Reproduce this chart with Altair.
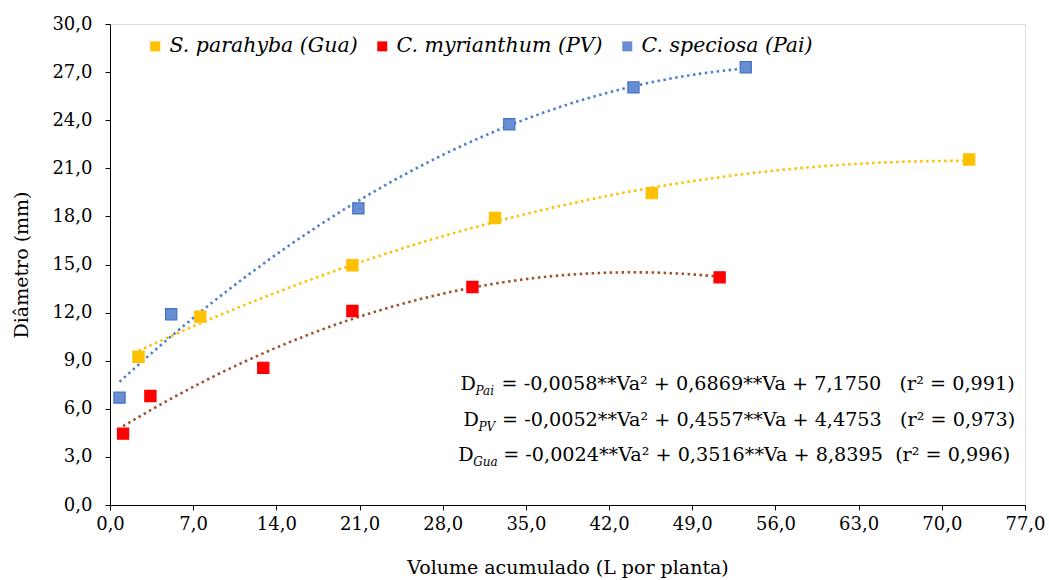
import altair as alt
import pandas as pd

# ---- data ----
series_names = ["S. parahyba (Gua)", "C. myrianthum (PV)", "C. speciosa (Pai)"]
series_fill = ["#FFC000", "#FF0000", "#6A8ED4"]
series_stroke = ["#FFC000", "#FF0000", "#4472C4"]
trend_colors = ["#FFC000", "#A0522D", "#4F7FCF"]

gua_x = [2.4, 7.6, 20.4, 32.4, 45.6, 72.3]
gua_y = [9.25, 11.75, 14.95, 17.9, 19.45, 21.55]
pv_x = [1.1, 3.4, 12.9, 20.4, 30.5, 51.3]
pv_y = [4.45, 6.8, 8.55, 12.1, 13.6, 14.2]
pai_x = [0.8, 5.15, 20.9, 33.6, 44.05, 53.5]
pai_y = [6.7, 11.9, 18.5, 23.75, 26.05, 27.3]

x_ticks = [0, 7, 14, 21, 28, 35, 42, 49, 56, 63, 70, 77]
y_ticks = [0, 3, 6, 9, 12, 15, 18, 21, 24, 27, 30]

NB = "\u00a0"
eq_sub = ["Pai", "PV", "Gua"]
eq_rest = [
    "= -0,0058**Va\u00b2 + 0,6869**Va + 7,1750" + NB * 3 + "(r\u00b2 = 0,991)",
    "= -0,0052**Va\u00b2 + 0,4557**Va + 4,4753" + NB * 3 + "(r\u00b2 = 0,973)",
    "= -0,0024**Va\u00b2 + 0,3516**Va + 8,8395" + NB * 2 + "(r\u00b2 = 0,996)",
]
eq_x = [29.5, 29.75, 29.3]
eq_y = [7.2, 4.9, 2.75]

FONT = "DejaVu Serif"

rows = []
for name, xs, ys in zip(series_names, [gua_x, pv_x, pai_x], [gua_y, pv_y, pai_y]):
    for a, b in zip(xs, ys):
        rows.append({"series": name, "x": a, "y": b})
df = pd.DataFrame(rows)

fmt = "replace(format(datum.value, '.1f'), '.', ',')"

xenc = alt.X(
    "x:Q",
    scale=alt.Scale(domain=[0, 77], nice=False, zero=False),
    axis=alt.Axis(
        values=x_ticks, labelExpr=fmt, title="Volume acumulado (L por planta)",
        grid=False, domainColor="black", tickColor="black", tickSize=5,
        labelFont=FONT, labelFontSize=18, labelColor="black", labelPadding=5,
        titleFont=FONT, titleFontSize=19, titleFontWeight="normal", titleColor="black",
        titlePadding=25, labelFlush=False,
    ),
)
yenc = alt.Y(
    "y:Q",
    scale=alt.Scale(domain=[0, 30], nice=False),
    axis=alt.Axis(
        values=y_ticks, labelExpr=fmt, title="Diâmetro (mm)",
        grid=False, domainColor="black", tickColor="black", tickSize=5,
        labelFont=FONT, labelFontSize=18, labelColor="black", labelPadding=13,
        titleFont=FONT, titleFontSize=19, titleFontWeight="normal", titleColor="black",
        titlePadding=20,
    ),
)

base = alt.Chart(df)

trend = base.transform_regression(
    "x", "y", groupby=["series"], method="poly", order=2
).mark_line(strokeDash=[2.5, 3.5], strokeWidth=2.6, strokeCap="butt").encode(
    x=xenc, y=yenc,
    color=alt.Color("series:N", scale=alt.Scale(domain=series_names, range=trend_colors), legend=None),
)

points = base.mark_point(shape="square", filled=True, size=125, opacity=1, strokeWidth=1.2).encode(
    x=xenc, y=yenc,
    fill=alt.Fill(
        "series:N",
        scale=alt.Scale(domain=series_names, range=series_fill),
        legend=alt.Legend(
            title=None, orient="none", legendX=35, legendY=12, direction="horizontal",
            symbolType="square", symbolSize=100, labelFont=FONT, labelFontSize=20.5,
            labelFontStyle="italic", labelColor="black", labelOffset=4, columnPadding=14,
            symbolStrokeWidth=0, labelLimit=0,
        ),
    ),
    stroke=alt.Stroke("series:N", scale=alt.Scale(domain=series_names, range=series_stroke), legend=None),
)

layers = [trend, points]
EQ_SIZE = 19.2
SUB_SIZE = 12
sub_w = {"Pai": 20, "PV": 17.5, "Gua": 24}
for i in range(3):
    d = pd.DataFrame({"x": [eq_x[i]], "y": [eq_y[i]], "D": ["D"], "s": [eq_sub[i]], "r": [eq_rest[i]]})
    c = alt.Chart(d)
    layers.append(c.mark_text(font=FONT, fontSize=EQ_SIZE, align="left", baseline="alphabetic", color="black").encode(
        x=alt.X("x:Q"), y=alt.Y("y:Q"), text="D:N"))
    layers.append(c.mark_text(font=FONT, fontSize=SUB_SIZE, fontStyle="italic", align="left", baseline="alphabetic",
                              color="black", dx=15, dy=5).encode(x=alt.X("x:Q"), y=alt.Y("y:Q"), text="s:N"))
    layers.append(c.mark_text(font=FONT, fontSize=EQ_SIZE, align="left", baseline="alphabetic", color="black",
                              dx=15 + sub_w[eq_sub[i]] + 6).encode(x=alt.X("x:Q"), y=alt.Y("y:Q"), text="r:N"))

chart = alt.layer(*layers).resolve_scale(color="independent", fill="independent", stroke="independent").properties(
    width=915, height=481,
    autosize=alt.AutoSizeParams(type="none"),
    padding={"left": 110, "top": 24, "right": 24, "bottom": 75},
).configure_view(stroke=None).configure(background="white")

chart.save("out.html", embed_options={"renderer": "svg", "actions": False})
